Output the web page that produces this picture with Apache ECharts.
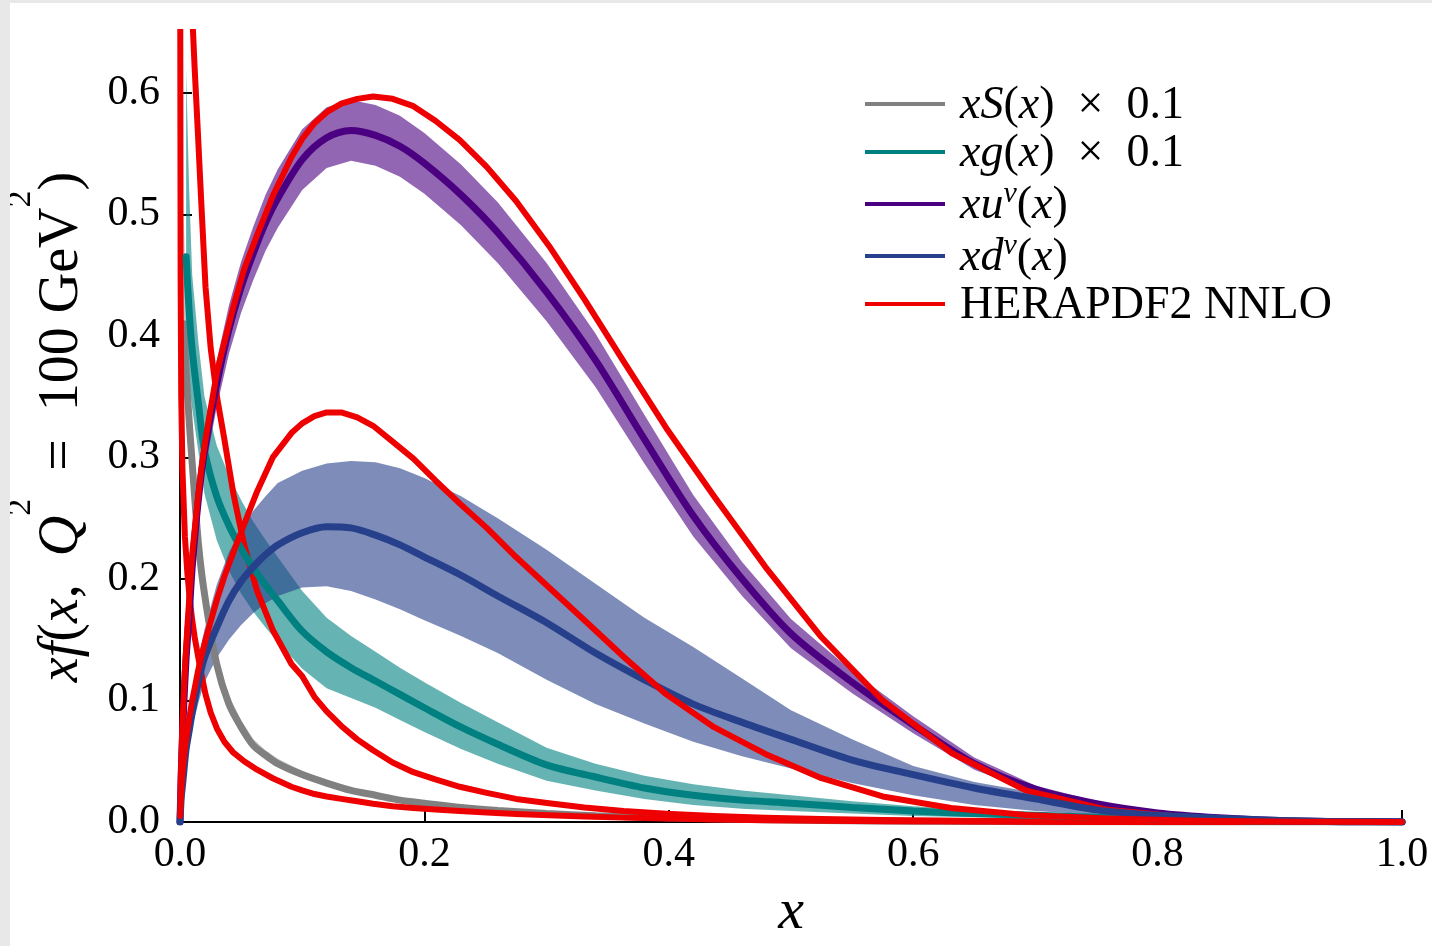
<!DOCTYPE html>
<html>
<head>
<meta charset="utf-8">
<title>xf(x, Q2 = 100 GeV2)</title>
<script src="https://cdn.jsdelivr.net/npm/echarts@6.0.0/dist/echarts.min.js"></script>
<style>
html, body { margin: 0; padding: 0; width: 1432px; height: 946px; overflow: hidden; background: #e8e8e8; }
#chart { position: absolute; left: 10px; top: 3px; width: 1422px; height: 943px; background: #fff; }
</style>
</head>
<body>
<div id="chart"></div>
<script>
// x grid of the fitted curves (center line + error band)
var gridX = [0, 0.001, 0.002, 0.003, 0.005, 0.0075, 0.01, 0.015, 0.02, 0.03, 0.04, 0.05, 0.06, 0.07, 0.08,
	0.1, 0.12, 0.14, 0.16, 0.18, 0.2, 0.23, 0.26, 0.3, 0.34, 0.38, 0.42, 0.46, 0.5,
	0.55, 0.6, 0.65, 0.7, 0.75, 0.8, 0.85, 0.9, 0.95, 1.0];

// xS(x) x 0.1
var sCenter = [null, null, null, 0.41, 0.37, 0.33, 0.295, 0.23, 0.188, 0.13, 0.097, 0.078, 0.063, 0.055, 0.048,
	0.039, 0.032, 0.026, 0.022, 0.018, 0.0155, 0.012, 0.0095, 0.007, 0.0052, 0.004, 0.003, 0.0022, 0.0016,
	0.0011, 0.0007, 0.0005, 0.0003, 0.0002, 0.0001, 0.0001, 0, 0, 0];
var sHigh = [null, null, null, 0.5, 0.42, 0.365, 0.32, 0.248, 0.2, 0.139, 0.104, 0.084, 0.068, 0.059, 0.052,
	0.042, 0.035, 0.028, 0.024, 0.02, 0.017, 0.0135, 0.0105, 0.008, 0.006, 0.0046, 0.0035, 0.0026, 0.0019,
	0.0013, 0.0009, 0.0006, 0.0004, 0.0003, 0.0002, 0.0001, 0, 0, 0];
var sLow = [null, null, null, 0.37, 0.34, 0.305, 0.275, 0.215, 0.177, 0.122, 0.091, 0.073, 0.059, 0.051, 0.045,
	0.036, 0.03, 0.024, 0.02, 0.017, 0.014, 0.011, 0.0085, 0.0062, 0.0045, 0.0035, 0.0026, 0.0019, 0.0013,
	0.0009, 0.0006, 0.0004, 0.0002, 0.0001, 0.0001, 0, 0, 0, 0];

// xg(x) x 0.1
var gCenter = [null, null, null, null, 0.465, 0.42, 0.388, 0.345, 0.306, 0.268, 0.244, 0.225, 0.209, 0.195, 0.182,
	0.157, 0.14, 0.127, 0.116, 0.105, 0.094, 0.078, 0.064, 0.047, 0.037, 0.028, 0.022, 0.018, 0.0155,
	0.012, 0.009, 0.007, 0.0055, 0.004, 0.0025, 0.0015, 0.0008, 0.0003, 0];
var gHigh = [null, null, null, null, 0.62, 0.52, 0.45, 0.395, 0.35, 0.31, 0.285, 0.265, 0.247, 0.232, 0.218,
	0.19, 0.168, 0.153, 0.14, 0.127, 0.115, 0.098, 0.082, 0.061, 0.048, 0.038, 0.031, 0.026, 0.022,
	0.017, 0.013, 0.01, 0.008, 0.006, 0.004, 0.0025, 0.0013, 0.0005, 0];
var gLow = [null, null, null, null, 0.38, 0.36, 0.34, 0.305, 0.27, 0.232, 0.207, 0.188, 0.173, 0.16, 0.148,
	0.126, 0.11, 0.102, 0.094, 0.084, 0.074, 0.06, 0.048, 0.034, 0.026, 0.019, 0.014, 0.011, 0.009,
	0.007, 0.005, 0.004, 0.003, 0.002, 0.0012, 0.0007, 0.0003, 0.0001, 0];

// xu_v(x)
var uCenter = [0, 0.04, 0.07, 0.095, 0.135, 0.17, 0.21, 0.265, 0.305, 0.36, 0.405, 0.44, 0.468, 0.493, 0.513,
	0.545, 0.563, 0.569, 0.565, 0.556, 0.542, 0.516, 0.485, 0.436, 0.38, 0.315, 0.252, 0.2, 0.155,
	0.115, 0.08, 0.048, 0.027, 0.015, 0.0075, 0.0035, 0.0012, 0.0003, 0];
var uHigh = [0, 0.045, 0.077, 0.104, 0.146, 0.183, 0.224, 0.281, 0.322, 0.379, 0.425, 0.461, 0.49, 0.516, 0.537,
	0.57, 0.588, 0.594, 0.59, 0.581, 0.567, 0.541, 0.51, 0.46, 0.402, 0.335, 0.269, 0.214, 0.167,
	0.124, 0.087, 0.053, 0.03, 0.017, 0.0085, 0.004, 0.0014, 0.0004, 0];
var uLow = [0, 0.035, 0.063, 0.086, 0.124, 0.157, 0.196, 0.249, 0.288, 0.341, 0.385, 0.419, 0.446, 0.47, 0.489,
	0.52, 0.538, 0.544, 0.54, 0.531, 0.517, 0.491, 0.46, 0.412, 0.358, 0.295, 0.235, 0.186, 0.143,
	0.106, 0.073, 0.043, 0.024, 0.013, 0.0065, 0.003, 0.001, 0.0002, 0];

// xd_v(x)
var dCenter = [0, 0.02, 0.03, 0.04, 0.06, 0.075, 0.09, 0.115, 0.135, 0.16, 0.182, 0.198, 0.21, 0.22, 0.228,
	0.238, 0.243, 0.242, 0.236, 0.228, 0.218, 0.203, 0.186, 0.164, 0.139, 0.117, 0.097, 0.082, 0.068,
	0.051, 0.039, 0.028, 0.019, 0.01, 0.0055, 0.003, 0.0012, 0.0003, 0];
var dHigh = [0, 0.024, 0.035, 0.047, 0.07, 0.088, 0.105, 0.135, 0.158, 0.195, 0.222, 0.24, 0.256, 0.268, 0.279,
	0.289, 0.295, 0.297, 0.296, 0.291, 0.283, 0.268, 0.25, 0.224, 0.196, 0.168, 0.144, 0.118, 0.092,
	0.068, 0.046, 0.033, 0.024, 0.014, 0.008, 0.004, 0.0015, 0.0004, 0];
var dLow = [0, 0.016, 0.025, 0.033, 0.05, 0.063, 0.078, 0.098, 0.115, 0.135, 0.15, 0.162, 0.172, 0.18, 0.186,
	0.193, 0.194, 0.19, 0.183, 0.175, 0.166, 0.153, 0.139, 0.117, 0.097, 0.081, 0.066, 0.054, 0.044,
	0.032, 0.022, 0.014, 0.009, 0.006, 0.003, 0.0015, 0.0006, 0.0001, 0];

// HERAPDF2 NNLO, log spaced x grid
var heraX = [0.0001, 0.0005, 0.001, 0.002, 0.004, 0.006, 0.008, 0.01, 0.012, 0.0145, 0.0174, 0.0209, 0.0251,
	0.0302, 0.0363, 0.0437, 0.0525, 0.0631, 0.0759, 0.0912, 0.1, 0.11, 0.12, 0.132, 0.145, 0.158, 0.174,
	0.191, 0.209, 0.229, 0.251, 0.275, 0.302, 0.331, 0.363, 0.398, 0.437, 0.479, 0.525, 0.575, 0.631,
	0.692, 0.759, 0.832, 0.912, 1.0];
var heraS = [0.75, 0.45, 0.35, 0.29, 0.235, 0.205, 0.183, 0.166, 0.152, 0.138, 0.122, 0.105, 0.09,
	0.077, 0.066, 0.057, 0.05, 0.043, 0.036, 0.029, 0.026, 0.023, 0.021, 0.019, 0.017, 0.015, 0.013,
	0.0115, 0.0102, 0.009, 0.0078, 0.0066, 0.0055, 0.0045, 0.0036, 0.0028, 0.0021, 0.0015, 0.001, 0.0007, 0.0004,
	0.0002, 0.0001, 0.00005, 0, 0];
var heraG = [null, null, null, null, null, null, 0.71, 0.665, 0.62, 0.57, 0.51, 0.44, 0.39,
	0.35, 0.315, 0.27, 0.228, 0.19, 0.158, 0.13, 0.12, 0.103, 0.091, 0.079, 0.068, 0.059, 0.049,
	0.041, 0.035, 0.029, 0.024, 0.019, 0.0155, 0.012, 0.009, 0.0068, 0.005, 0.0036, 0.0025, 0.0017, 0.0011,
	0.0007, 0.0004, 0.0002, 0.00005, 0];
var heraU = [0.01, 0.03, 0.05, 0.08, 0.125, 0.16, 0.19, 0.22, 0.24, 0.265, 0.29, 0.315, 0.34,
	0.37, 0.395, 0.424, 0.455, 0.483, 0.515, 0.547, 0.562, 0.575, 0.584, 0.591, 0.595, 0.597, 0.595,
	0.589, 0.577, 0.561, 0.539, 0.511, 0.474, 0.43, 0.379, 0.324, 0.268, 0.21, 0.152, 0.1, 0.057,
	0.026, 0.01, 0.003, 0.0005, 0];
var heraD = [0.005, 0.015, 0.025, 0.04, 0.06, 0.075, 0.088, 0.1, 0.11, 0.123, 0.136, 0.15, 0.165,
	0.183, 0.202, 0.222, 0.245, 0.272, 0.3, 0.32, 0.328, 0.334, 0.337, 0.337, 0.333, 0.326, 0.313,
	0.299, 0.281, 0.262, 0.242, 0.218, 0.193, 0.166, 0.136, 0.105, 0.078, 0.056, 0.036, 0.021, 0.0115,
	0.0058, 0.0028, 0.001, 0.0003, 0];

var yTicks = [0, 0.1, 0.2, 0.3, 0.4, 0.5, 0.6];

var names = ['xS(x) × 0.1', 'xg(x) × 0.1', 'xu^v(x)', 'xd^v(x)', 'HERAPDF2 NNLO'];
var legendRich = {
	'xS(x) × 0.1': '{i|xS}{r|(}{i|x}{r|)  ×  0.1}',
	'xg(x) × 0.1': '{i|xg}{r|(}{i|x}{r|)  ×  0.1}',
	'xu^v(x)': '{i|xu}{s|v}{r|(}{i|x}{r|)}',
	'xd^v(x)': '{i|xd}{s|v}{r|(}{i|x}{r|)}',
	'HERAPDF2 NNLO': '{r|HERAPDF2 NNLO}'
};

var SERIF = "'Liberation Serif', 'DejaVu Serif', serif";
var RED = '#ee0000';

// zip x and y, skip missing points
function pairs(xs, ys) {
	var out = [];
	for (var i = 0; i < xs.length; i++) {
		if (ys[i] != null) out.push([xs[i], ys[i]]);
	}
	return out;
}

// error band: polygon high edge -> low edge (reversed), through the grid's coords
function band(lo, hi, color) {
	var edge = pairs(gridX, hi).concat(pairs(gridX, lo).reverse());
	return {
		type: 'custom', silent: true, clip: true, data: [[0, 0]],
		renderItem: function (params, api) {
			var pts = edge.map(function (p) { return api.coord(p); });
			return { type: 'polygon', shape: { points: pts }, style: { fill: color } };
		}
	};
}

function center(name, ys, color) {
	return {
		name: name, type: 'line', data: pairs(gridX, ys), symbol: 'none', smooth: 0.3,
		lineStyle: { color: color, width: 7, cap: 'round' }, itemStyle: { color: color }
	};
}

function hera(ys) {
	return {
		name: 'HERAPDF2 NNLO', type: 'line', data: pairs(heraX, ys), symbol: 'none',
		lineStyle: { color: RED, width: 6, cap: 'round', join: 'round' }, itemStyle: { color: RED }
	};
}

var series = [
	band(sLow, sHigh, 'rgba(128,128,128,0.5)'),
	center(names[0], sCenter, '#808080'),
	hera(heraS),
	hera(heraG),
	band(gLow, gHigh, 'rgba(0,128,128,0.6)'),
	center(names[1], gCenter, '#008080'),
	band(uLow, uHigh, 'rgba(75,0,130,0.6)'),
	center(names[2], uCenter, '#4b0082'),
	hera(heraU),
	band(dLow, dHigh, 'rgba(39,64,139,0.6)'),
	center(names[3], dCenter, '#27408b'),
	hera(heraD)
];

var myChart = echarts.init(document.getElementById('chart'));
myChart.setOption({
	animation: false,
	backgroundColor: '#fff',
	grid: { left: 170, right: 30, top: 29, bottom: 124, outerBoundsMode: 'none', containLabel: false },
	legend: {
		data: names,
		orient: 'vertical',
		left: 855,
		top: 80,
		padding: 0,
		icon: 'rect',
		itemWidth: 80,
		itemHeight: 4,
		itemGap: 2,
		formatter: function (name) { return legendRich[name]; },
		textStyle: {
			fontFamily: SERIF, fontSize: 46, color: '#000', padding: [0, 0, 0, 10],
			rich: {
				i: { fontFamily: SERIF, fontSize: 46, fontStyle: 'italic', lineHeight: 50, verticalAlign: 'bottom' },
				r: { fontFamily: SERIF, fontSize: 46, lineHeight: 50, verticalAlign: 'bottom' },
				s: { fontFamily: SERIF, fontSize: 30, fontStyle: 'italic', lineHeight: 30, verticalAlign: 'top' }
			}
		}
	},
	xAxis: {
		type: 'value', min: 0, max: 1, interval: 0.2,
		name: 'x', nameLocation: 'middle', nameGap: 62, nameMoveOverlap: false,
		nameTextStyle: { fontFamily: SERIF, fontSize: 58, fontStyle: 'italic', color: '#000' },
		axisLine: { lineStyle: { color: '#000', width: 2 } },
		axisTick: { inside: true, length: 12, lineStyle: { color: '#000', width: 2 } },
		axisLabel: {
			margin: 12, fontFamily: SERIF, fontSize: 42, color: '#000',
			formatter: function (v) { return v.toFixed(1); }
		},
		splitLine: { show: false }
	},
	yAxis: {
		type: 'value', min: 0, max: 0.65, interval: 0.1,
		name: '{i|xf}{r|(}{i|x}{r|,  }{i|Q}{s|2}{r|  =  100 GeV}{s|2}{r|)}',
		nameLocation: 'middle', nameRotate: 90, nameGap: 90, nameMoveOverlap: false,
		nameTextStyle: {
			fontFamily: SERIF, fontSize: 56, color: '#000',
			rich: {
				i: { fontFamily: SERIF, fontSize: 56, fontStyle: 'italic', lineHeight: 86, verticalAlign: 'bottom' },
				r: { fontFamily: SERIF, fontSize: 56, lineHeight: 86, verticalAlign: 'bottom' },
				s: { fontFamily: SERIF, fontSize: 34, lineHeight: 34, verticalAlign: 'top' }
			}
		},
		axisLine: { show: true, lineStyle: { color: '#000', width: 2 } },
		axisTick: { inside: true, length: 12, customValues: yTicks, lineStyle: { color: '#000', width: 2 } },
		axisLabel: {
			margin: 20, fontFamily: SERIF, fontSize: 42, color: '#000', customValues: yTicks,
			formatter: function (v) { return v.toFixed(1); }
		},
		splitLine: { show: false }
	},
	series: series
});
</script>
</body>
</html>
